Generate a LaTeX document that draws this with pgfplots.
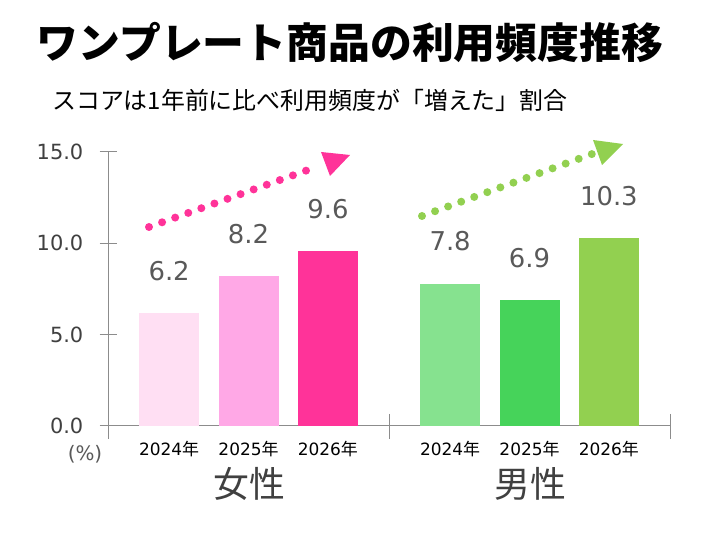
\documentclass[border=0pt]{standalone}
\usepackage{fontspec}
\setmainfont{Noto Sans CJK JP}
\newfontfamily\numfont{DejaVu Sans}
\usepackage{pgfplots}
\pgfplotsset{compat=1.18}
\definecolor{axisgray}{HTML}{8C8C8C}
\definecolor{ticktext}{HTML}{404040}
\definecolor{valtext}{HTML}{595959}
\definecolor{wA}{HTML}{FFDFF3}
\definecolor{wB}{HTML}{FFA8E6}
\definecolor{wC}{HTML}{FF3399}
\definecolor{mA}{HTML}{86E28F}
\definecolor{mB}{HTML}{46D35A}
\definecolor{mC}{HTML}{92D050}
\begin{document}
\begin{tikzpicture}[x=1bp,y=1bp]
\path[use as bounding box] (0,0) rectangle (718,551);
\node[anchor=center,inner sep=0pt,font=\bfseries\fontsize{42}{42}\selectfont] at (350,508) {ワンプレート商品の利用頻度推移};
\node[anchor=west,inner sep=0pt,font=\fontsize{24}{24}\selectfont] at (52,451) {スコアは1年前に比べ利用頻度が「増えた」割合};
\begin{axis}[
  at={(108bp,125bp)}, anchor=south west,
  scale only axis, width=562bp, height=274bp,
  xmin=-0.77, xmax=6.31, ymin=0, ymax=15,
  axis lines*=left,
  axis line style={draw=axisgray, line width=1bp},
  /pgf/number format/assume math mode=true,
  ytick={0,5,10,15}, yticklabels={0.0,5.0,10.0,15.0},
  tick align=center, major tick length=17bp,
  y tick style={draw=axisgray, line width=1bp},
  yticklabel style={font=\numfont\fontsize{21}{21}\selectfont, text=ticktext, anchor=east, inner sep=0pt, xshift=-16bp},
  xtick={0,1,2,3.54,4.54,5.54},
  xticklabels={{\numfont 2024}年,{\numfont 2025}年,{\numfont 2026}年,{\numfont 2024}年,{\numfont 2025}年,{\numfont 2026}年},
  x tick style={draw=none},
  xticklabel style={font=\fontsize{17}{17}\selectfont, text=black, anchor=center, inner sep=0pt, yshift=-6bp},
  xticklabel shift=0pt,
  ybar, bar width=60bp, bar shift=0pt,
  clip=false,
  nodes near coords,
  every node near coord/.append style={font=\numfont\fontsize{26}{26}\selectfont, text=valtext, anchor=center, yshift=42bp},
]
\addplot[fill=wA, draw=none] coordinates {(0,6.2)};
\addplot[fill=wB, draw=none] coordinates {(1,8.2)};
\addplot[fill=wC, draw=none] coordinates {(2,9.6)};
\addplot[fill=mA, draw=none] coordinates {(3.54,7.8)};
\addplot[fill=mB, draw=none] coordinates {(4.54,6.9)};
\addplot[fill=mC, draw=none] coordinates {(5.54,10.3)};
\end{axis}
% axis extension and group separators
\draw[axisgray, line width=1bp] (108,125) -- (108,112);
\draw[axisgray, line width=1bp] (389,137) -- (389,112);
\draw[axisgray, line width=1bp] (670,137) -- (670,112);
\node[font=\numfont\fontsize{20}{20}\selectfont, text=valtext] at (85,97) {(\%)};
\node[font=\fontsize{36}{36}\selectfont, text=ticktext] at (249,67) {女性};
\node[font=\fontsize{36}{36}\selectfont, text=ticktext] at (530,67) {男性};
% trend arrows
\draw[wC, line width=8bp, line cap=round, dash pattern=on 0bp off 13.9bp] (149,324) -- (319,385);
\fill[wC] (321,399) -- (350,396) -- (330,375) -- cycle;
\draw[mC, line width=8bp, line cap=round, dash pattern=on 0bp off 13.9bp] (422,335) -- (592,397);
\fill[mC] (593,411) -- (623,407) -- (602,386) -- cycle;
\end{tikzpicture}
\end{document}
